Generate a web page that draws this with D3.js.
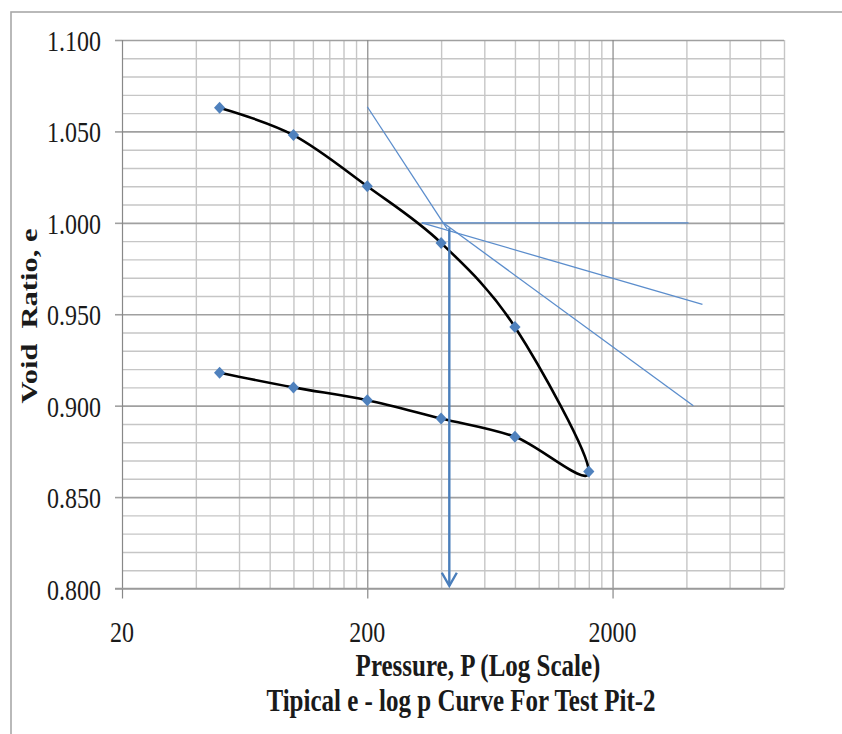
<!DOCTYPE html>
<html><head><meta charset="utf-8">
<script src="https://cdn.jsdelivr.net/npm/d3@7"></script>
<style>body{margin:0;background:#fff} svg{display:block} text{font-family:"Liberation Serif","Times New Roman",serif;fill:#1a1a1a;white-space:pre}</style>
</head><body><svg id="c" width="842" height="734"></svg>
<script>
// ---- data ----
const pressureLoad = [50, 100, 200, 400, 800, 1600];
const voidLoad = [1.063, 1.048, 1.020, 0.989, 0.943, 0.864];
const pressureUnload = [800, 400, 200, 100, 50];
const voidUnload = [0.883, 0.893, 0.903, 0.910, 0.918];
const xTickLabels = [20, 200, 2000];
const yTickValues = [0.80, 0.85, 0.90, 0.95, 1.00, 1.05, 1.10];
const virginExtension = [[200, 1.0635], [424, 0.9966]];
const horizontalLine = [[333, 1.000], [4080, 1.000]];
const tangentLine = [[334, 1.000], [4650, 0.9554]];
const bisectorLine = [[408, 1.000], [4270, 0.900]];
const preconArrow = [[432, 0.997], [432, 0.8015]];
const xTitle = "Pressure, P (Log Scale)";
const yTitle = "Void  Ratio, e";
const chartTitle = "Tipical e - log p Curve For Test Pit-2";

// ---- layout ----
const L = 122, R = 784, T = 40, B = 588.5;
const SY = 1.27, FS = 24, FT = 25;
const svg = d3.select("#c");
const x = d3.scaleLog().domain([20, 10000]).range([L, R]);
const y = d3.scaleLinear().domain([0.8, 1.1]).range([B, T]);

// outer frame
svg.append("rect").attr("x", 11).attr("y", 12).attr("width", 1000).attr("height", 1000)
  .attr("fill", "none").attr("stroke", "#a8a8a8").attr("stroke-width", 1.6);

// minor values
const minorX = [];
xTickLabels.forEach(d => { for (let k = 2; k <= 9; k++) if (d * k <= 10000) minorX.push(d * k); });
const minorY = d3.range(80, 111).map(v => v / 100).filter(v => Math.round(v * 100) % 5 !== 0);

const g = svg.append("g");
g.append("g").attr("transform", `translate(${L},0)`)
  .call(d3.axisLeft(y).tickValues(minorY).tickSize(-(R - L)).tickFormat(""))
  .call(a => a.select(".domain").remove())
  .call(a => a.selectAll("line").attr("stroke", "#c6c6c6").attr("stroke-width", 1.4));
g.append("g").attr("transform", `translate(0,${B})`)
  .call(d3.axisBottom(x).tickValues(minorX).tickSize(-(B - T)).tickFormat(""))
  .call(a => a.select(".domain").remove())
  .call(a => a.selectAll("line").attr("stroke", "#c6c6c6").attr("stroke-width", 1.4));
g.append("g").attr("transform", `translate(${L},0)`)
  .call(d3.axisLeft(y).tickValues(yTickValues).tickSizeInner(-(R - L)).tickSizeOuter(0).tickFormat(""))
  .call(a => a.select(".domain").remove())
  .call(a => a.selectAll(".tick").append("line").attr("x1", -7).attr("x2", 0))
  .call(a => a.selectAll("line").attr("stroke", "#a0a0a0").attr("stroke-width", 1.6));
g.append("g").attr("transform", `translate(0,${B})`)
  .call(d3.axisBottom(x).tickValues(xTickLabels).tickSizeInner(-(B - T)).tickFormat(""))
  .call(a => a.select(".domain").remove())
  .call(a => a.selectAll(".tick").append("line").attr("y1", 0).attr("y2", 10))
  .call(a => a.selectAll("line").attr("stroke", "#888").attr("stroke-width", 1.2));
g.append("line").attr("x1", L - 7).attr("x2", R).attr("y1", B).attr("y2", B)
  .attr("stroke", "#9a9a9a").attr("stroke-width", 1.6);

// tick labels
yTickValues.forEach(v => {
  svg.append("text").attr("transform", `translate(101,${y(v) + 11}) scale(1,${SY})`)
    .attr("text-anchor", "end").attr("font-size", FS).text(d3.format(".3f")(v));
});
xTickLabels.forEach(v => {
  svg.append("text").attr("transform", `translate(${x(v)},642) scale(1,${SY})`)
    .attr("text-anchor", "middle").attr("font-size", FS).text(v);
});
// titles
svg.append("text").attr("transform", `translate(478,676) scale(1,${SY})`)
  .attr("text-anchor", "middle").attr("font-size", FT).attr("font-weight", "bold").text(xTitle);
svg.append("text").attr("transform", `translate(461,711) scale(1,${SY})`)
  .attr("text-anchor", "middle").attr("font-size", FT).attr("font-weight", "bold").text(chartTitle);
svg.append("text").attr("transform", `translate(37,316) scale(1,${SY}) rotate(-90)`)
  .attr("text-anchor", "middle").attr("font-size", FS).attr("font-weight", "bold").text(yTitle);

// construction lines
const lineGen = d3.line().x(d => x(d[0])).y(d => y(d[1]));
[virginExtension, horizontalLine, tangentLine, bisectorLine].forEach(seg => {
  svg.append("path").attr("d", lineGen(seg)).attr("fill", "none")
    .attr("stroke", "#5b8dcc").attr("stroke-width", 1.3);
});

// e-log p curve
const pts = pressureLoad.map((p, i) => [p, voidLoad[i]])
  .concat(pressureUnload.map((p, i) => [p, voidUnload[i]]));
svg.append("path").attr("d", d3.line().x(d => x(d[0])).y(d => y(d[1])).curve(d3.curveCardinal.tension(0))(pts))
  .attr("fill", "none").attr("stroke", "#000").attr("stroke-width", 2.6);

// arrow
svg.append("path").attr("d", lineGen(preconArrow)).attr("fill", "none")
  .attr("stroke", "#4a7ebb").attr("stroke-width", 2.4);
const ax = x(preconArrow[1][0]), ay = y(preconArrow[1][1]);
svg.append("path").attr("d", `M${ax - 7.5},${ay - 13} L${ax},${ay} L${ax + 7.5},${ay - 13}`)
  .attr("fill", "none").attr("stroke", "#4a7ebb").attr("stroke-width", 2.4);

// markers
svg.selectAll(".mk").data(pts).enter().append("path")
  .attr("transform", d => `translate(${x(d[0])},${y(d[1])})`)
  .attr("d", "M0,-6 L5.6,0 L0,6 L-5.6,0 Z").attr("fill", "#4f81bd");
</script></body></html>
